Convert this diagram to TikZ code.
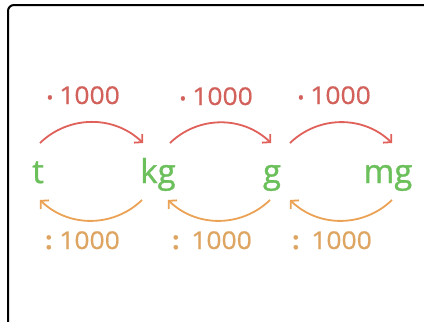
\documentclass[tikz,border=0pt]{standalone}
\usepackage{fontspec}
\setmainfont{Open Sans}
\usetikzlibrary{arrows.meta}
\definecolor{redarrow}{HTML}{E0605A}
\definecolor{redtext}{HTML}{D2615C}
\definecolor{unitgreen}{HTML}{6BC05B}
\definecolor{orarrow}{HTML}{EBA255}
\definecolor{ortext}{HTML}{DEA562}
\newfontfamily\unitfont[FakeBold=1.0]{Open Sans}
\newfontfamily\labfont[FakeBold=0.5,FakeStretch=1.08]{Open Sans}
\newfontfamily\markfont[FakeBold=1.5]{Open Sans}
\newcommand{\mdot}{{\markfont\fontsize{18}{20}\selectfont •}}
\newcommand{\mcolon}{{\markfont\bfseries :}}
\tikzset{
  unit/.style={font=\unitfont\fontsize{33}{36}\selectfont, text=unitgreen, anchor=base, inner sep=0pt},
  mlabel/.style={font=\labfont\fontsize{24.5}{28}\selectfont, text=redtext, anchor=base east, inner sep=0pt},
  dlabel/.style={font=\labfont\fontsize{24.5}{28}\selectfont, text=ortext, anchor=base east, inner sep=0pt},
  tipstyle/.style={-{Straight Barb[length=5.5pt,width=12pt,line width=1.8pt]}},
  mularrow/.style={draw=redarrow, line width=1.8pt, tipstyle, bend left=44},
  divarrow/.style={draw=orarrow, line width=1.8pt, tipstyle, bend left=44},
}
\begin{document}
\begin{tikzpicture}[x=1pt,y=-1pt]
\useasboundingbox (0,0) rectangle (424,322);
\clip (0,0) rectangle (424,322);
\fill[white] (0,0) rectangle (424,322);
\draw[line width=2pt, rounded corners=6pt] (8,5) rectangle (450,350);
% units
\node[unit] (t) at (38,183) {t};
\node[unit] (kg) at (158,183) {kg};
\node[unit] (g) at (272,183) {g};
\node[unit] (mg) at (388,183) {mg};
% labels
\node[mlabel] (m1) at (120,104) {\mdot\hspace{6pt}1000};
\node[mlabel] (m2) at (253,105) {\mdot\hspace{6pt}1000};
\node[mlabel] (m3) at (371,104) {\mdot\hspace{6pt}1000};
\node[dlabel] (d1) at (120,249) {\mcolon\hspace{7pt}1000};
\node[dlabel] (d2) at (252,249) {\mcolon\hspace{12pt}1000};
\node[dlabel] (d3) at (372,249) {\mcolon\hspace{12pt}1000};
% arrow ends
\coordinate (a1s) at (40,143); \coordinate (a1e) at (143,143);
\coordinate (a2s) at (170,143); \coordinate (a2e) at (271,143);
\coordinate (a3s) at (290,143); \coordinate (a3e) at (392,143);
\coordinate (b1s) at (142,200); \coordinate (b1e) at (40,200);
\coordinate (b2s) at (270,200); \coordinate (b2e) at (168,200);
\coordinate (b3s) at (392,200); \coordinate (b3e) at (290,200);
\draw[mularrow] (a1s) to (a1e);
\draw[mularrow] (a2s) to (a2e);
\draw[mularrow] (a3s) to (a3e);
\draw[divarrow] (b1s) to (b1e);
\draw[divarrow] (b2s) to (b2e);
\draw[divarrow] (b3s) to (b3e);
\end{tikzpicture}
\end{document}
